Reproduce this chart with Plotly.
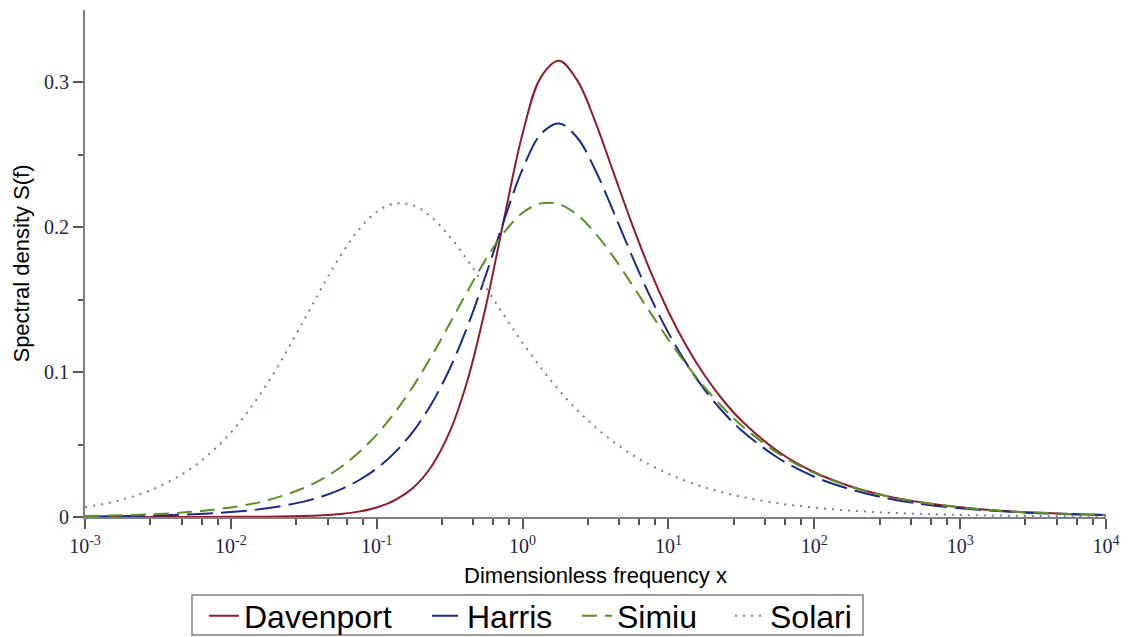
import plotly.graph_objects as go

# Dimensionless frequency samples
x_vals = [0.001, 0.001778, 0.003162, 0.005623, 0.01, 0.01778, 0.03162, 0.04217,
          0.05623, 0.07499, 0.1, 0.1334, 0.1778, 0.2371, 0.3162, 0.4217, 0.5623,
          0.7499, 1, 1.334, 1.778, 2.371, 3.162, 4.217, 5.623, 7.499, 10, 13.34,
          17.78, 23.71, 31.62, 56.23, 100, 177.8, 316.2, 562.3, 1000, 1778, 3162,
          5623, 10000]

davenport = [0.0000, 0.0000, 0.0000, 0.0000, 0.0001, 0.0002, 0.0007, 0.0012, 0.0021,
             0.0037, 0.0066, 0.0116, 0.0202, 0.0349, 0.0587, 0.0953, 0.1462, 0.2068,
             0.2646, 0.3035, 0.3149, 0.3014, 0.2725, 0.2374, 0.2023, 0.1700, 0.1417,
             0.1177, 0.0975, 0.0806, 0.0666, 0.0454, 0.0309, 0.0211, 0.0144, 0.0098,
             0.0067, 0.0045, 0.0031, 0.0021, 0.0014]

harris = [0.0003, 0.0006, 0.0011, 0.0019, 0.0034, 0.0060, 0.0106, 0.0142, 0.0189,
          0.0252, 0.0335, 0.0446, 0.0591, 0.0780, 0.1022, 0.1323, 0.1676, 0.2054,
          0.2402, 0.2643, 0.2717, 0.2618, 0.2392, 0.2103, 0.1803, 0.1521, 0.1271,
          0.1057, 0.0876, 0.0725, 0.0599, 0.0409, 0.0278, 0.0190, 0.0129, 0.0088,
          0.0060, 0.0041, 0.0028, 0.0019, 0.0013]

simiu = [0.0007, 0.0012, 0.0021, 0.0037, 0.0066, 0.0115, 0.0200, 0.0262, 0.0342,
         0.0443, 0.0569, 0.0722, 0.0903, 0.1109, 0.1334, 0.1564, 0.1782, 0.1967,
         0.2100, 0.2165, 0.2159, 0.2086, 0.1957, 0.1792, 0.1605, 0.1412, 0.1225,
         0.1051, 0.0893, 0.0754, 0.0633, 0.0441, 0.0304, 0.0209, 0.0143, 0.0098,
         0.0067, 0.0045, 0.0031, 0.0021, 0.0014]

solari = [0.0068, 0.0118, 0.0206, 0.0352, 0.0583, 0.0922, 0.1357, 0.1586, 0.1801,
          0.1981, 0.2107, 0.2164, 0.2151, 0.2070, 0.1937, 0.1769, 0.1581, 0.1389,
          0.1203, 0.1031, 0.0875, 0.0738, 0.0620, 0.0518, 0.0431, 0.0359, 0.0298,
          0.0247, 0.0204, 0.0169, 0.0140, 0.0095, 0.0065, 0.0044, 0.0030, 0.0021,
          0.0014, 0.0010, 0.0007, 0.0004, 0.0003]

series_names = ["Davenport", "Harris", "Simiu", "Solari"]

x_tick_vals = [1e-3, 1e-2, 1e-1, 1e0, 1e1, 1e2, 1e3, 1e4]
x_tick_text = ["10<sup>-3</sup>", "10<sup>-2</sup>", "10<sup>-1</sup>", "10<sup>0</sup>",
               "10<sup>1</sup>", "10<sup>2</sup>", "10<sup>3</sup>", "10<sup>4</sup>"]
y_tick_vals = [0, 0.1, 0.2, 0.3]
y_tick_text = ["0", "0.1", "0.2", "0.3"]
y_minor_vals = [0.05, 0.15, 0.25]
minor_mult = [2.8, 4.6, 6.3, 8.1]
x_minor_vals = [m * d for d in [1e-3, 1e-2, 1e-1, 1e0, 1e1, 1e2, 1e3] for m in minor_mult]

styles = [
    dict(color="#8E1C2C", dash="solid"),
    dict(color="#1C2A8C", dash="26px,8px"),
    dict(color="#5F8F26", dash="15px,8px"),
    dict(color="#6E7BB2", dash="2px,6px"),
]

# plot area in pixels (layout only)
W, H = 1128, 637
L_PX, R_PX, T_PX, B_PX = 85, 1106, 10, 517


def px_to_paper_x(px):
    return (px - L_PX) / (R_PX - L_PX)


def px_to_paper_y(py):
    return (B_PX - py) / (B_PX - T_PX)


legend_keys = ["legend", "legend2", "legend3", "legend4"]
legend_left_px = [204, 427, 577, 730]

fig = go.Figure()
for name, ys, st, lk in zip(series_names, [davenport, harris, simiu, solari], styles, legend_keys):
    fig.add_trace(go.Scatter(
        x=x_vals, y=ys, name=name, mode="lines", legend=lk,
        line=dict(color=st["color"], dash=st["dash"], width=2, shape="spline"),
    ))

axis_col = "#808080"
tick_font = dict(family="Liberation Serif, Times New Roman, serif", size=20, color="#1e2448")
title_font = dict(family="Liberation Sans, Arial, sans-serif", size=22, color="black")

fig.update_xaxes(
    type="log", range=[-3, 4],
    showline=True, linecolor=axis_col, linewidth=2,
    showgrid=False, zeroline=False,
    ticks="outside", ticklen=10, tickwidth=1.5, tickcolor="#555555",
    tickmode="array", tickvals=x_tick_vals, ticktext=x_tick_text,
    tickfont=tick_font,
    minor=dict(tickmode="array", tickvals=x_minor_vals, ticks="outside",
               ticklen=6, tickwidth=1.5, tickcolor="#555555", showgrid=False),
    title=dict(text="Dimensionless frequency x", font=title_font, standoff=12),
)
fig.update_yaxes(
    range=[0, 0.35],
    showline=True, linecolor=axis_col, linewidth=2,
    showgrid=False, zeroline=False,
    ticks="outside", ticklen=10, tickwidth=1.5, tickcolor="#555555",
    tickmode="array", tickvals=y_tick_vals, ticktext=y_tick_text,
    tickfont=tick_font,
    minor=dict(tickmode="array", tickvals=y_minor_vals, ticks="outside",
               ticklen=5, tickwidth=1.5, tickcolor="#555555", showgrid=False),
    title=dict(text="Spectral density S(f)", font=title_font, standoff=8),
)

legend_font = dict(family="Liberation Sans, Arial, sans-serif", size=32, color="black")
legend_layout = {}
for lk, lx in zip(legend_keys, legend_left_px):
    legend_layout[lk] = dict(
        orientation="h", x=px_to_paper_x(lx), xanchor="left",
        y=px_to_paper_y(616), yanchor="middle",
        bgcolor="rgba(0,0,0,0)", borderwidth=0,
        font=legend_font, itemwidth=30,
    )

fig.update_layout(
    width=W, height=H,
    margin=dict(l=L_PX, r=W - R_PX, t=T_PX, b=H - B_PX, autoexpand=False),
    plot_bgcolor="white", paper_bgcolor="white",
    showlegend=True,
    **legend_layout,
)

# legend frame
fig.add_shape(
    type="rect", xref="paper", yref="paper",
    x0=px_to_paper_x(192), x1=px_to_paper_x(863),
    y0=px_to_paper_y(635), y1=px_to_paper_y(595),
    line=dict(color=axis_col, width=1.5), fillcolor="rgba(0,0,0,0)",
)

fig.write_html("out.html")
